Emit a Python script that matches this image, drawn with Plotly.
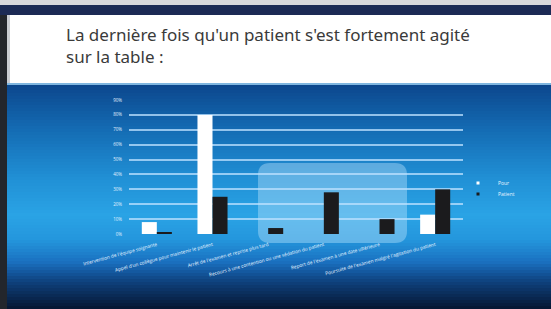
import plotly.graph_objects as go

W, H = 551, 309

categories = [
    "Intervention de l'équipe soignante",
    "Appel d'un collègue pour maintenir le patient",
    "Arrêt de l'examen et reprise plus tard",
    "Recours à une contention ou une sédation du patient",
    "Report de l'examen à une date ultérieure",
    "Poursuite de l'examen malgré l'agitation du patient",
]
series_names = ["Pour", "Patient"]
values_a = [8, 80, 0, 0, 0, 13]
values_b = [1, 25, 4, 28, 10, 30]
y_ticks = [0, 10, 20, 30, 40, 50, 60, 70, 80, 90]
y_ticktext = [f"{v}%" for v in y_ticks]
title_lines = ["La dernière fois qu'un patient s'est fortement agité", "sur la table :"]
bar_colors = ["#ffffff", "#1b1b1d"]


def px(x):
    return x / W


def py(y):
    return 1 - y / H


fig = go.Figure()
for name, vals, col in zip(series_names, [values_a, values_b], bar_colors):
    fig.add_trace(go.Bar(x=categories, y=vals, name=name, showlegend=False,
                         marker=dict(color=col, line=dict(width=0))))
# compact legend entries (small square symbols), one legend box per series
for name, col, lg in zip(series_names, bar_colors, ["legend", "legend2"]):
    fig.add_trace(go.Scatter(x=[None], y=[None], mode="markers", name=name, legend=lg,
                             marker=dict(symbol="square", size=3, color=col)))

shapes = []
stops = [(84, (12, 70, 140)), (130, (20, 108, 180)), (180, (33, 145, 214)),
         (215, (42, 163, 229)), (240, (36, 150, 220)), (262, (26, 112, 192)),
         (282, (14, 64, 124)), (309, (6, 22, 48))]


def col_at(y):
    for (y0, c0), (y1, c1) in zip(stops[:-1], stops[1:]):
        if y0 <= y <= y1:
            t = (y - y0) / (y1 - y0)
            return tuple(int(round(a + (b - a) * t)) for a, b in zip(c0, c1))
    return stops[-1][1]


step = 3
y = 84
while y < H:
    c = col_at(y + step / 2)
    shapes.append(dict(type="rect", xref="paper", yref="paper", layer="below",
                       x0=0, x1=1, y0=max(py(y + step + 1.5), 0), y1=py(y),
                       fillcolor=f"rgb{c}", line=dict(width=0)))
    y += step
shapes.append(dict(type="rect", xref="paper", yref="paper", layer="below",
                   x0=0, x1=1, y0=py(85), y1=py(83),
                   fillcolor="#7fb6e0", line=dict(width=0)))
shapes.append(dict(type="rect", xref="paper", yref="paper", layer="below",
                   x0=0, x1=1, y0=py(5), y1=1, fillcolor="#d8d8dc", line=dict(width=0)))
shapes.append(dict(type="rect", xref="paper", yref="paper", layer="below",
                   x0=0, x1=1, y0=py(15), y1=py(5), fillcolor="#1c2a55", line=dict(width=0)))
shapes.append(dict(type="rect", xref="paper", yref="paper", layer="below",
                   x0=px(7), x1=px(10), y0=py(83), y1=py(15), fillcolor="#c9ccd2", line=dict(width=0)))
shapes.append(dict(type="rect", xref="paper", yref="paper", layer="below",
                   x0=0, x1=px(7), y0=0, y1=py(15), fillcolor="#23262c", line=dict(width=0)))

x0, x1, y0, y1, r = 258, 407, 163, 243, 12
path = (f"M {px(x0 + r)} {py(y0)} L {px(x1 - r)} {py(y0)} "
        f"Q {px(x1)} {py(y0)} {px(x1)} {py(y0 + r)} L {px(x1)} {py(y1 - r)} "
        f"Q {px(x1)} {py(y1)} {px(x1 - r)} {py(y1)} L {px(x0 + r)} {py(y1)} "
        f"Q {px(x0)} {py(y1)} {px(x0)} {py(y1 - r)} L {px(x0)} {py(y0 + r)} "
        f"Q {px(x0)} {py(y0)} {px(x0 + r)} {py(y0)} Z")
shapes.append(dict(type="path", xref="paper", yref="paper", layer="between", path=path,
                   fillcolor="rgba(200,235,255,0.38)", line=dict(width=0)))

annotations = [
    dict(text="<br>".join(title_lines), x=px(64), y=py(21), xref="paper", yref="paper",
         xanchor="left", yanchor="top", align="left", showarrow=False,
         font=dict(family="Noto Sans", size=17, color="#3a3a3a")),
]

legend_common = dict(xanchor="left", yanchor="middle", bgcolor="rgba(0,0,0,0)",
                     font=dict(size=5, color="#e8f4ff"), itemwidth=30,
                     borderwidth=0)

fig.update_layout(
    template="none",
    width=W, height=H, autosize=False,
    margin=dict(l=0, r=0, t=0, b=0, pad=0, autoexpand=False),
    paper_bgcolor="#ffffff",
    plot_bgcolor="rgba(0,0,0,0)",
    barmode="group", bargap=0.46, bargroupgap=0,
    shapes=shapes, annotations=annotations,
    showlegend=True,
    legend=dict(x=px(458), y=py(183), **legend_common),
    legend2=dict(x=px(458), y=py(194), **legend_common),
    xaxis=dict(domain=[px(129), px(463)], showgrid=False, showline=False,
               automargin=False, tickangle=-15, ticklabelstandoff=6,
               tickfont=dict(size=4.8, color="#e2f2ff"),
               ticks="", zeroline=False),
    yaxis=dict(domain=[py(234), py(100)], range=[0, 90], tickvals=y_ticks,
               automargin=False, ticktext=y_ticktext, showgrid=True,
               gridcolor="rgba(190,225,255,0.75)",
               gridwidth=1.5, zeroline=False, showline=False,
               tickfont=dict(size=4.5, color="#e0f0ff"), ticks="", ticklabelstandoff=6),
)

fig.write_html("out.html", config={"displayModeBar": False},
               post_script="document.body.style.margin='0';")
